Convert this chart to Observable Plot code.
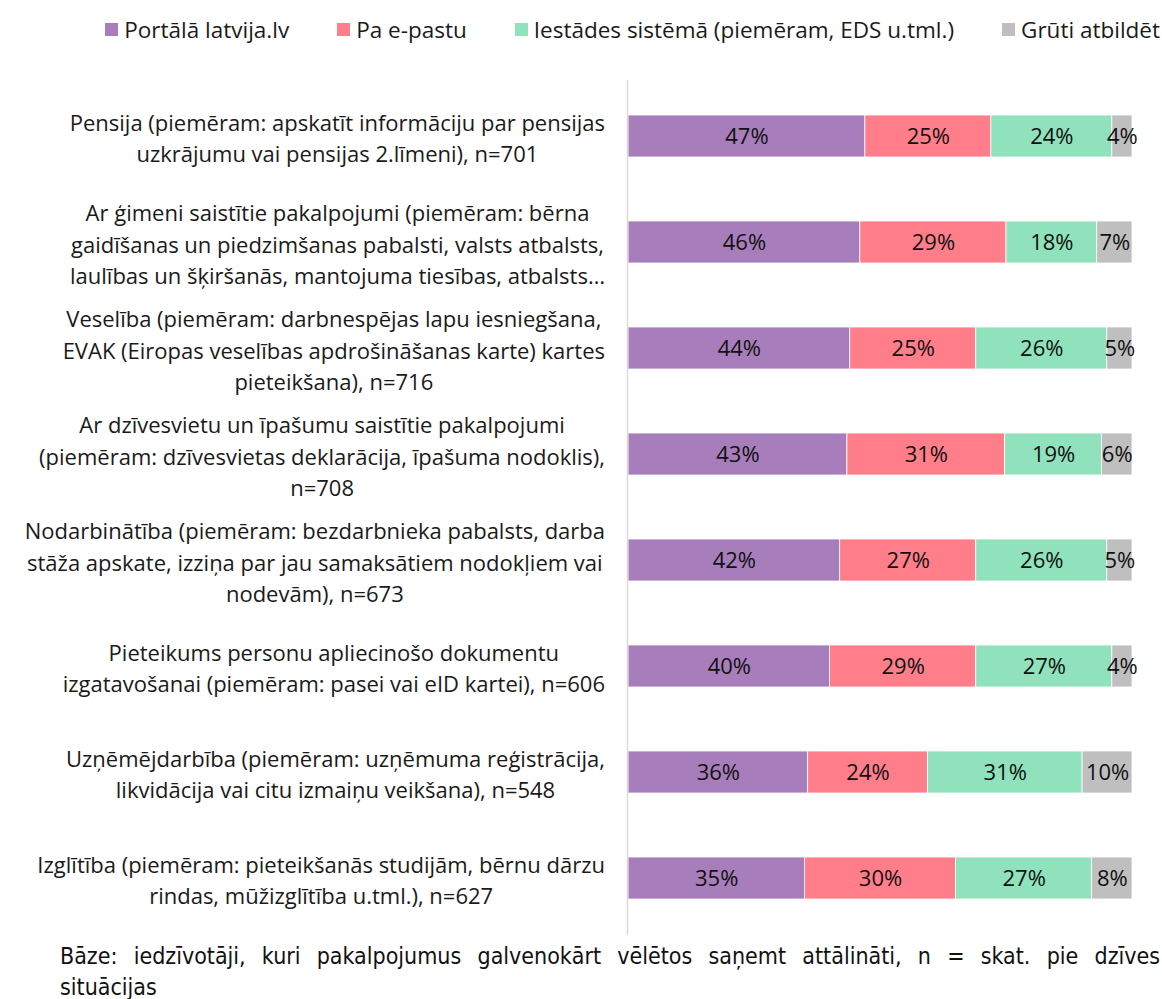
<!DOCTYPE html>
<html>
<head>
<meta charset="utf-8">
<script src="https://cdn.jsdelivr.net/npm/d3@7"></script>
<script src="https://cdn.jsdelivr.net/npm/@observablehq/plot@0.6"></script>
<style>
  body { margin: 0; background: #fff; width: 1162px; height: 999px; overflow: hidden; font-family: "Open Sans", sans-serif; }
  #legend { height: 60px; display: flex; justify-content: flex-end; align-items: center; padding-right: 2px; gap: 48px; font-size: 22.5px; color: #1a1a1a; box-sizing: border-box; padding-bottom: 2px; }
  #legend .item { display: flex; align-items: center; white-space: nowrap; }
  #legend .sw { width: 13px; height: 13px; margin-right: 6px; display: inline-block; }
  #chart svg { display: block; }
  #foot { margin: 1px 2px 0 60px; font-family: "DejaVu Sans Condensed", "DejaVu Sans", sans-serif; font-size: 23px; line-height: 31px; color: #111; }
  #foot .l1 { text-align: justify; text-align-last: justify; white-space: nowrap; }
</style>
</head>
<body>
<div id="legend"></div>
<div id="chart"></div>
<div id="foot"><div class="l1" id="foot1"></div><div id="foot2"></div></div>
<script>
const categories = [
  "Pensija (piemēram: apskatīt informāciju par pensijas\nuzkrājumu vai pensijas 2.līmeni), n=701",
  "Ar ģimeni saistītie pakalpojumi (piemēram: bērna\ngaidīšanas un piedzimšanas pabalsti, valsts atbalsts,\nlaulības un šķiršanās, mantojuma tiesības, atbalsts…",
  "Veselība (piemēram: darbnespējas lapu iesniegšana,\nEVAK (Eiropas veselības apdrošināšanas karte) kartes\npieteikšana), n=716",
  "Ar dzīvesvietu un īpašumu saistītie pakalpojumi\n(piemēram: dzīvesvietas deklarācija, īpašuma nodoklis),\nn=708",
  "Nodarbinātība (piemēram: bezdarbnieka pabalsts, darba\nstāža apskate, izziņa par jau samaksātiem nodokļiem vai\nnodevām), n=673",
  "Pieteikums personu apliecinošo dokumentu\nizgatavošanai (piemēram: pasei vai eID kartei), n=606",
  "Uzņēmējdarbība (piemēram: uzņēmuma reģistrācija,\nlikvidācija vai citu izmaiņu veikšana), n=548",
  "Izglītība (piemēram: pieteikšanās studijām, bērnu dārzu\nrindas, mūžizglītība u.tml.), n=627"
];
const seriesNames = ["Portālā latvija.lv", "Pa e-pastu", "Iestādes sistēmā (piemēram, EDS u.tml.)", "Grūti atbildēt"];
const seriesColors = ["#A77EBB", "#FF7E8A", "#8FE2BC", "#BFBFBF"];
const portals = [47, 46, 44, 43, 42, 40, 36, 35];
const epasts  = [25, 29, 25, 31, 27, 29, 24, 30];
const iestade = [24, 18, 26, 19, 26, 27, 31, 27];
const gruti   = [4, 7, 5, 6, 5, 4, 10, 8];
const footLines = ["Bāze: iedzīvotāji, kuri pakalpojumus galvenokārt vēlētos saņemt attālināti, n = skat. pie dzīves", "situācijas"];

const seriesValues = [portals, epasts, iestade, gruti];
const data = [];
categories.forEach((c, i) => {
  seriesNames.forEach((s, j) => data.push({cat: c, series: s, value: seriesValues[j][i]}));
});

document.getElementById("foot1").textContent = footLines[0];
document.getElementById("foot2").textContent = footLines[1];

// legend
const legend = document.getElementById("legend");
seriesNames.forEach((s, j) => {
  const it = document.createElement("div");
  it.className = "item";
  it.innerHTML = `<span class="sw" style="background:${seriesColors[j]}"></span>${s}`;
  legend.appendChild(it);
});

const LABEL_RIGHT = 605;

const chart = Plot.plot({
  width: 1162,
  height: 880,
  marginLeft: 628,
  marginRight: 30,
  marginTop: 20,
  marginBottom: 5,
  style: {fontFamily: "Open Sans, sans-serif", background: "white"},
  x: {domain: [0, 1], axis: null},
  y: {domain: categories, axis: null, paddingInner: 0.6, paddingOuter: 0.307},
  color: {domain: seriesNames, range: seriesColors},
  marks: [
    Plot.text(categories, {
      y: d => d, text: d => d, frameAnchor: "left", textAnchor: "middle",
      dx: -300, lineHeight: 1.43, fontSize: 22, fill: "#1a1a1a"
    }),
    Plot.barX(data, Plot.stackX({
      x: "value", y: "cat", z: "series", fill: "series",
      offset: "normalize", order: seriesNames,
      stroke: "white", strokeWidth: 0.8
    })),
    Plot.text(data, Plot.stackX({
      x: "value", y: "cat", z: "series",
      offset: "normalize", order: seriesNames,
      text: d => d.value + "%", fontSize: 22, fill: "#111"
    })),
    Plot.ruleX([0], {stroke: "#D9D9D9", strokeWidth: 1.5, dx: -1})
  ]
});
document.getElementById("chart").appendChild(chart);

// right-align each label block (its lines centered) against the plot area, like the reference
const svgLeft = chart.getBoundingClientRect().left;
const labelGroup = chart.querySelectorAll('g[aria-label="text"]')[0];
labelGroup.querySelectorAll("text").forEach(t => {
  const r = t.getBoundingClientRect();
  const tr = t.getAttribute("transform") || "";
  const m = tr.match(/translate\(([-\d.e]+)[ ,]+([-\d.e]+)\)/);
  const shift = LABEL_RIGHT - (r.right - svgLeft);
  if (m) {
    t.setAttribute("transform", `translate(${parseFloat(m[1]) + shift},${m[2]})`);
  } else {
    t.setAttribute("transform", `translate(${shift},0) ${tr}`);
  }
});
</script>
</body>
</html>
